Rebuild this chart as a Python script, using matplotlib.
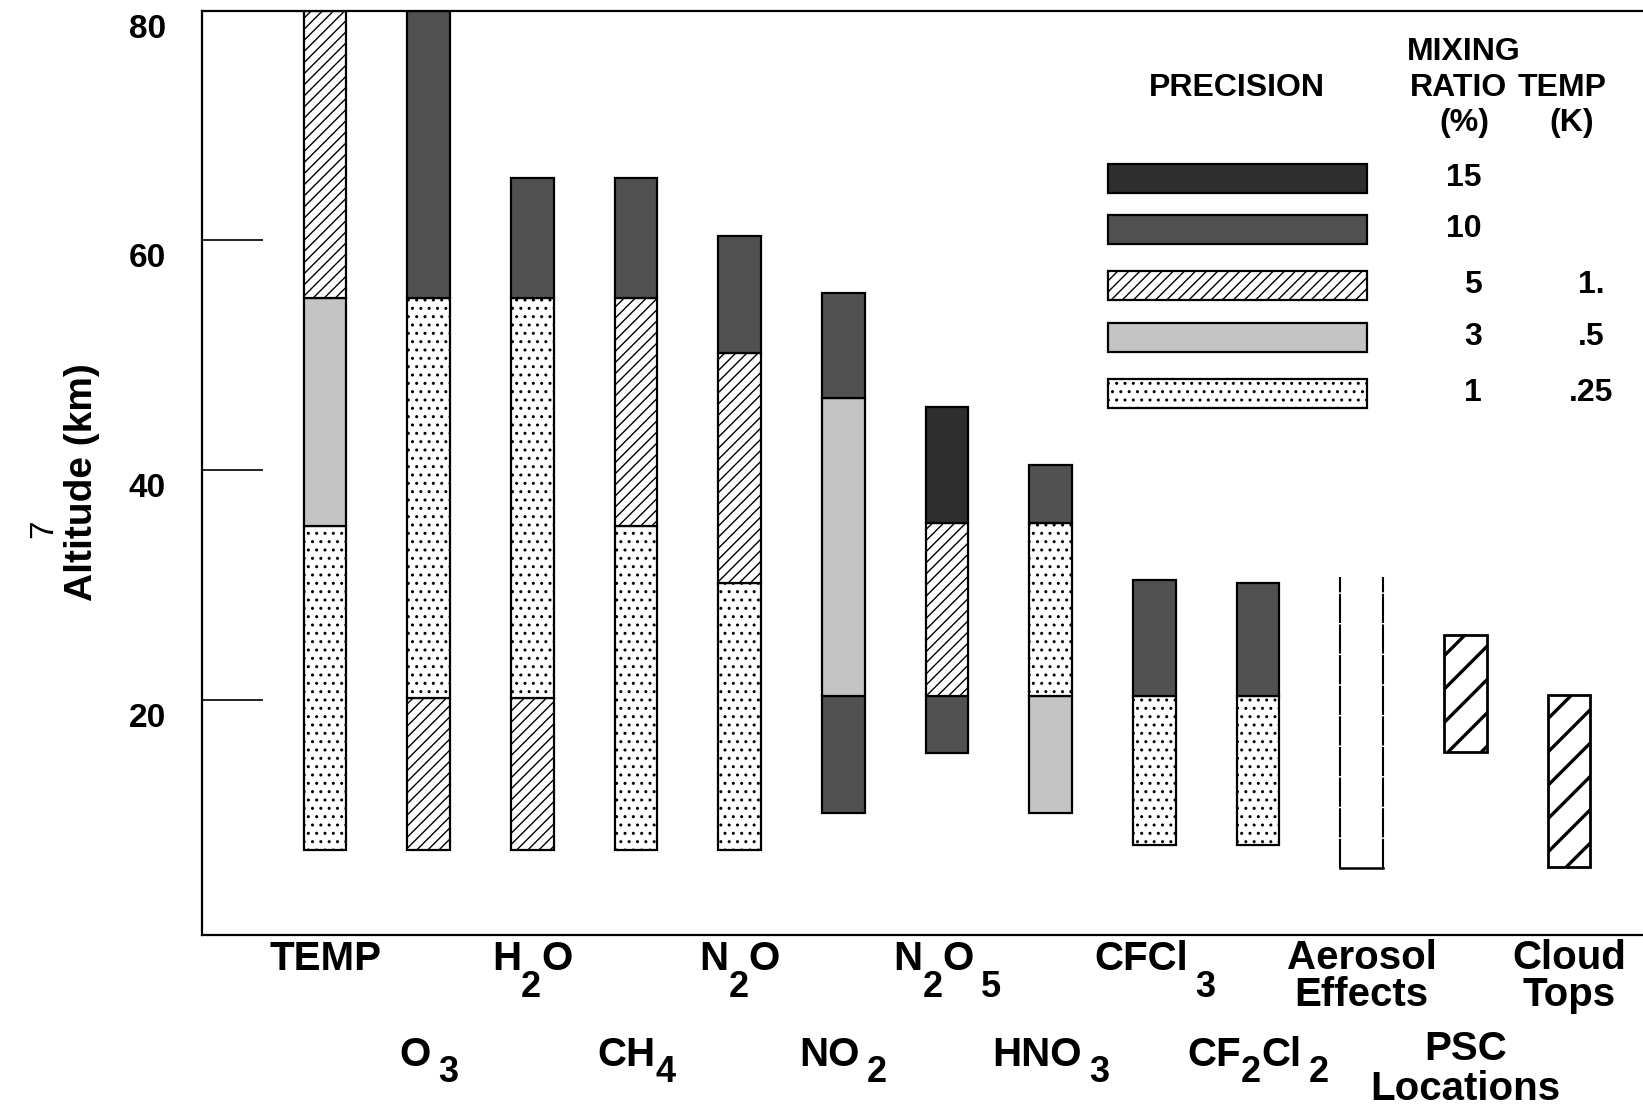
import matplotlib
matplotlib.use("Agg")
import matplotlib.pyplot as plt
from matplotlib.patches import Rectangle
from matplotlib.transforms import ScaledTranslation

# ---------------- data ----------------
species = ['TEMP', 'O3', 'H2O', 'CH4', 'N2O', 'NO2', 'N2O5', 'HNO3',
           'CFCl3', 'CF2Cl2', 'Aerosol Effects', 'PSC Locations', 'Cloud Tops']

# stacked precision segments (species index, bottom km, top km, precision class %)
seg_species = [0, 0, 0, 1, 1, 1, 2, 2, 2, 3, 3, 3, 4, 4, 4,
               5, 5, 5, 6, 6, 6, 7, 7, 7, 8, 8, 9, 9]
seg_bottom = [7.0, 35.2, 55.0, 7.0, 20.2, 55.0, 7.0, 20.2, 55.0, 7.0, 35.2, 55.0,
              7.0, 30.2, 50.2, 10.2, 20.4, 46.3, 15.4, 20.4, 35.4, 10.2, 20.4, 35.4,
              7.4, 20.4, 7.4, 20.4]
seg_top = [35.2, 55.0, 80.0, 20.2, 55.0, 80.0, 20.2, 55.0, 65.4, 35.2, 55.0, 65.4,
           30.2, 50.2, 60.4, 20.4, 46.3, 55.4, 20.4, 35.4, 45.5, 20.4, 35.4, 40.5,
           20.4, 30.5, 20.4, 30.2]
seg_class = [1, 3, 5, 5, 1, 10, 5, 1, 10, 1, 5, 10, 1, 5, 10,
             10, 3, 10, 10, 5, 15, 3, 1, 10, 1, 10, 1, 10]

aerosol_range = [5.4, 30.7]   # open-topped dashed column
psc_range = [15.5, 25.7]
cloud_range = [5.5, 20.5]

legend_classes = [15, 10, 5, 3, 1]
legend_mixing = ['15', '10', '5', '3', '1']
legend_temp = ['', '', '1.', '.5', '.25']

yticks = [20, 40, 60, 80]
ytick_labels = ['20', '40', '60', '80']

# x-axis labels: lines of (text, kind) pieces; kind 0 main, 1 subscript,
# 2 subscript set slightly apart; row 0 upper, 1 lower
label_lines = [
    [[('TEMP', 0)]],
    [[('O', 0), ('3', 2)]],
    [[('H', 0), ('2', 1), ('O', 0)]],
    [[('CH', 0), ('4', 1)]],
    [[('N', 0), ('2', 1), ('O', 0)]],
    [[('NO', 0), ('2', 2)]],
    [[('N', 0), ('2', 1), ('O', 0), ('5', 2)]],
    [[('HNO', 0), ('3', 2)]],
    [[('CFCl', 0), ('3', 2)]],
    [[('CF', 0), ('2', 1), ('Cl', 0), ('2', 2)]],
    [[('Aerosol', 0)], [('Effects', 0)]],
    [[('PSC', 0)], [('Locations', 0)]],
    [[('Cloud', 0)], [('Tops', 0)]],
]
label_row = [0, 1, 0, 1, 0, 1, 0, 1, 0, 1, 0, 1, 0]

# ---------------- styles ----------------
plt.rcParams['font.family'] = ['Liberation Sans', 'DejaVu Sans']
plt.rcParams['hatch.linewidth'] = 1.0

styles = {
    15: dict(facecolor='#2e2e2e', hatch=None),
    10: dict(facecolor='#515151', hatch=None),
    5: dict(facecolor='white', hatch='///'),
    3: dict(facecolor='#c4c4c4', hatch=None),
    1: dict(facecolor='white', hatch='..'),
}

W, H, DPI = 1643, 1112, 100
fig = plt.figure(figsize=(W / DPI, H / DPI), dpi=DPI)
ax_left, ax_right, ax_top, ax_bottom = 202, 1660, 10.5, 935
ax = fig.add_axes([ax_left / W, 1 - ax_bottom / H,
                   (ax_right - ax_left) / W, (ax_bottom - ax_top) / H])

px_per_unit = 103.67
x0 = -(325 - ax_left) / px_per_unit
ax.set_xlim(x0, x0 + (ax_right - ax_left) / px_per_unit)
ax.set_ylim(-0.4, 80)

bar_w = 0.41
lw = 1.6

for s, b, t, c in zip(seg_species, seg_bottom, seg_top, seg_class):
    st = styles[c]
    ax.bar(s, t - b, bottom=b, width=bar_w, facecolor=st['facecolor'],
           hatch=st['hatch'], edgecolor='black', linewidth=lw, zorder=2)

# aerosol: dashed sides, solid bottom, open top
xa = species.index('Aerosol Effects')
for dx in (-bar_w / 2, bar_w / 2):
    ax.plot([xa + dx, xa + dx], aerosol_range, color='black', lw=1.5,
            ls=(0, (14, 0.7)), zorder=3)
ax.plot([xa - bar_w / 2, xa + bar_w / 2], [aerosol_range[0]] * 2,
        color='black', lw=1.8, zorder=3)

# PSC and cloud tops: coarse hatch
with plt.rc_context({'hatch.linewidth': 2.4}):
    for name, rng in (('PSC Locations', psc_range), ('Cloud Tops', cloud_range)):
        bars = ax.bar(species.index(name), rng[1] - rng[0], bottom=rng[0],
                      width=bar_w, facecolor='white', hatch='/',
                      edgecolor='black', linewidth=2.0, zorder=2)
        for p in bars:
            if hasattr(p, 'set_hatch_linewidth'):
                p.set_hatch_linewidth(2.4)

# axes styling
for sp in ('top', 'left', 'bottom'):
    ax.spines[sp].set_linewidth(1.6)
ax.spines['right'].set_visible(False)
ax.set_xticks([])
ax.set_yticks(yticks)
ax.set_yticklabels(ytick_labels, fontsize=24, fontweight='bold')
ax.tick_params(axis='y', direction='in', length=44, width=1.2, pad=26)
for lab in ax.get_yticklabels():
    lab.set_transform(lab.get_transform() +
                      ScaledTranslation(0, -0.15, fig.dpi_scale_trans))
ax.set_ylabel('Altitude (km)', fontsize=28, fontweight='bold')
ax.yaxis.set_label_coords((100 - ax_left) / (ax_right - ax_left), 0.49)

fig.text(44 / W, 1 - 529 / H, '7', rotation=90, fontsize=24,
         ha='center', va='center')

# ---------------- legend ----------------
leg_x0, leg_x1 = 1108, 1367
leg_rows_y = [178, 229, 285, 337, 393]
leg_h = 29
for c, yr, mix, tmp in zip(legend_classes, leg_rows_y, legend_mixing, legend_temp):
    st = styles[c]
    r = Rectangle((leg_x0 / W, 1 - (yr + leg_h / 2) / H), (leg_x1 - leg_x0) / W,
                  leg_h / H, transform=fig.transFigure, facecolor=st['facecolor'],
                  hatch=st['hatch'], edgecolor='black', linewidth=lw)
    fig.add_artist(r)
    fig.text(1482 / W, 1 - yr / H, mix, fontsize=23, fontweight='bold',
             ha='right', va='center')
    if tmp:
        fig.text(1591 / W, 1 - yr / H, tmp, fontsize=23, fontweight='bold',
                 ha='center', va='center')

hdr = dict(fontsize=23, fontweight='bold', ha='center', va='center')
fig.text(1237 / W, 1 - 88 / H, 'PRECISION', **hdr)
fig.text(1464 / W, 1 - 52 / H, 'MIXING', **hdr)
fig.text(1458 / W, 1 - 88 / H, 'RATIO', **hdr)
fig.text(1464 / W, 1 - 123 / H, '(%)', **hdr)
fig.text(1562 / W, 1 - 88 / H, 'TEMP', **hdr)
fig.text(1572 / W, 1 - 123 / H, '(K)', **hdr)

# ---------------- x labels with subscripts ----------------
renderer = fig.canvas.get_renderer()
main_size, sub_size = 29, 26
row_baseline_px = [970 - ax_bottom, 1066 - ax_bottom]
row_first_multi_px = [969 - ax_bottom, 1060 - ax_bottom]
line_step_px = [37, 40]
row_drop_px = [27, 16]
apart_gap_px = 7
pt_per_px = 72.0 / DPI


def text_width(txt, size):
    t = fig.text(0, 0, txt, fontsize=size, fontweight='bold')
    w = t.get_window_extent(renderer).width
    t.remove()
    return w


for i, lines in enumerate(label_lines):
    row = label_row[i]
    for k, pieces in enumerate(lines):
        if len(lines) > 1:
            base = row_first_multi_px[row] + k * line_step_px[row]
        else:
            base = row_baseline_px[row]
        widths = [text_width(txt, sub_size if kind else main_size)
                  for txt, kind in pieces]
        gaps = [apart_gap_px if kind == 2 else 0 for txt, kind in pieces]
        total = sum(widths) + sum(gaps)
        cur = -total / 2
        for (txt, kind), w, g in zip(pieces, widths, gaps):
            cur += g
            dy = -(base + (row_drop_px[row] if kind else 0))
            ax.annotate(txt, xy=(i, 0), xycoords=ax.get_xaxis_transform(),
                        xytext=(cur * pt_per_px, dy * pt_per_px),
                        textcoords='offset points', ha='left', va='baseline',
                        fontsize=sub_size if kind else main_size,
                        fontweight='bold', annotation_clip=False)
            cur += w

fig.savefig('out.png', dpi=DPI)
